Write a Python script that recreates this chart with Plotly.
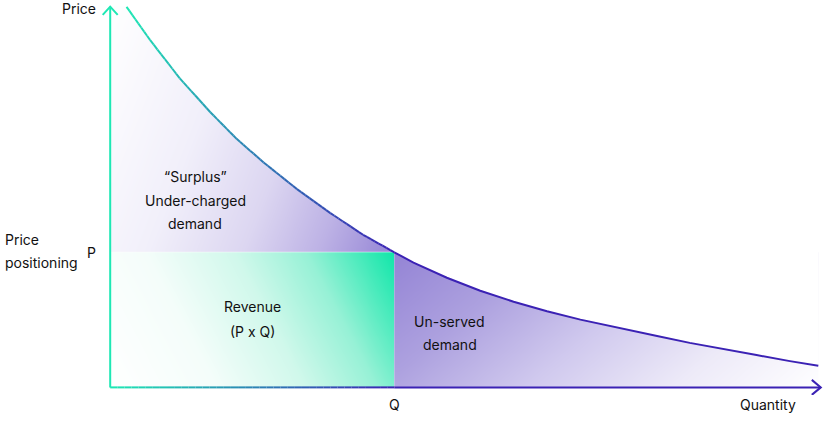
import numpy as np
import plotly.graph_objects as go

# ---------------- data ----------------
demand_quantity = [2.3, 5.6, 9.8, 14.1, 17.8, 21.6, 26.3, 31.0, 35.6, 40.0,
                   42.7, 47.4, 52.1, 56.8, 61.5, 66.2, 72.3, 77.0, 81.6, 86.3,
                   91.0, 95.7, 99.7]
demand_price = [100.0, 91.3, 81.2, 72.3, 65.3, 59.1, 52.1, 45.8, 40.1, 35.5,
                32.8, 28.8, 25.4, 22.5, 20.0, 17.8, 15.3, 13.5, 11.7, 10.0,
                8.5, 6.9, 5.7]
price_point = 35.5      # P
quantity_point = 40.0   # Q

axis_names = ["Price", "Quantity"]
marker_names = ["P", "Q"]
price_caption = ["Price", "positioning"]
surplus_text = ["\u201cSurplus\u201d", "Under-charged", "demand"]
revenue_text = ["Revenue", "(P x Q)"]
unserved_text = ["Un-served", "demand"]

# ---------------- style ----------------
W, H = 825, 421
X_RANGE = [-2, 100.5]
Y_RANGE = [-2, 101]
MARGIN = dict(l=96, r=1, t=3, b=26)
PLOT_W = W - MARGIN["l"] - MARGIN["r"]
PLOT_H = H - MARGIN["t"] - MARGIN["b"]
PXX = PLOT_W / (X_RANGE[1] - X_RANGE[0])
PXY = PLOT_H / (Y_RANGE[1] - Y_RANGE[0])

TEAL = (30, 232, 180)
INDIGO = (59, 34, 180)
FONT = dict(family="Inter, Roboto, sans-serif", size=14, color="#111111")


def mix(c1, c2, t):
    return "rgb(%d,%d,%d)" % tuple(round(a + (b - a) * t) for a, b in zip(c1, c2))


def gradient_heatmap(x0, x1, y0, y1, tfun, colorscale, n=48):
    xs = np.linspace(x0, x1, n + 1)
    ys = np.linspace(y0, y1, n + 1)
    xc = (xs[:-1] + xs[1:]) / 2
    yc = (ys[:-1] + ys[1:]) / 2
    U, V = np.meshgrid((xc - x0) / (x1 - x0), (yc - y0) / (y1 - y0))
    z = np.clip(tfun(U, V), 0, 1)
    return go.Heatmap(x=xs, y=ys, z=z, zmin=0, zmax=1, colorscale=colorscale,
                      showscale=False, zsmooth="best", hoverinfo="skip")


fig = go.Figure()

q_end = demand_quantity[-1]

# Surplus (above P, below the curve): light top-left -> purple bottom-right
fig.add_trace(gradient_heatmap(
    0, quantity_point, price_point, demand_price[0],
    lambda u, v: 0.75 * u + 0.25 * (1 - v),
    [[0, "#ffffff"], [0.35, "#f1effa"], [0.6, "#dcd6f1"], [0.8, "#bdb2e5"], [1, "#9484d5"]]))

# Revenue rectangle: white bottom-left -> teal top-right
fig.add_trace(gradient_heatmap(
    0, quantity_point, 0, price_point,
    lambda u, v: 0.8 * u + 0.2 * v,
    [[0, "#ffffff"], [0.3, "#f4fdfa"], [0.55, "#d0f8eb"], [0.75, "#97f1d6"], [1, "#10e6a9"]]))

# Un-served demand: purple top-left -> white bottom-right
fig.add_trace(gradient_heatmap(
    quantity_point, q_end, 0, price_point,
    lambda u, v: 0.72 * u + 0.28 * (1 - v),
    [[0, "#9484d5"], [0.25, "#ada1df"], [0.5, "#d0c9ee"], [0.75, "#edeaf8"], [1, "#ffffff"]]))

# white mask above the demand curve
fig.add_trace(go.Scatter(
    x=demand_quantity + [q_end, demand_quantity[0]],
    y=demand_price + [Y_RANGE[1] + 1, Y_RANGE[1] + 1],
    mode="lines", fill="toself", fillcolor="white", line=dict(width=0),
    hoverinfo="skip", showlegend=False))


def seg(x, y, color, width=2):
    fig.add_trace(go.Scatter(x=x, y=y, mode="lines", line=dict(color=color, width=width),
                             hoverinfo="skip", showlegend=False))


# demand curve: gradient teal -> indigo until Q, then indigo
iq = demand_quantity.index(quantity_point)
px = np.array(demand_quantity[:iq + 1]) * PXX
py = np.array(demand_price[:iq + 1]) * PXY
lens = np.hypot(np.diff(px), np.diff(py))
cum = np.concatenate([[0], np.cumsum(lens)])
total = cum[-1]
SUB = 8
for i in range(iq):
    x0, x1 = demand_quantity[i], demand_quantity[i + 1]
    y0, y1 = demand_price[i], demand_price[i + 1]
    for k in range(SUB):
        a, b = k / SUB, (k + 1) / SUB
        t = (cum[i] + lens[i] * (a + b) / 2) / total
        seg([x0 + (x1 - x0) * a, x0 + (x1 - x0) * b],
            [y0 + (y1 - y0) * a, y0 + (y1 - y0) * b], mix(TEAL, INDIGO, t))
seg(demand_quantity[iq:], demand_price[iq:], mix(INDIGO, INDIGO, 0))

# axes
X_TIP = 100.05
Y_TIP = 100.04
seg([0, 0], [0, Y_TIP], mix(TEAL, TEAL, 0))
NX = 40
for k in range(NX):
    a, b = k / NX, (k + 1) / NX
    seg([quantity_point * a, quantity_point * b], [0, 0], mix(TEAL, INDIGO, (a + b) / 2))
seg([quantity_point, X_TIP], [0, 0], mix(INDIGO, INDIGO, 0))
# arrow heads
seg([-7.5 / PXX, 0, 7.5 / PXX], [Y_TIP - 8.3 / PXY, Y_TIP, Y_TIP - 8.3 / PXY], mix(TEAL, TEAL, 0))
seg([X_TIP - 9 / PXX, X_TIP, X_TIP - 9 / PXX], [7.5 / PXY, 0, -7.5 / PXY], mix(INDIGO, INDIGO, 0))


def pxp(p):   # pixel x -> paper
    return (p - MARGIN["l"]) / PLOT_W


def pyp(p):   # pixel y -> paper
    return (H - MARGIN["b"] - p) / PLOT_H


annotations = []


def label(text, x, y, xanchor="center"):
    annotations.append(dict(text=text, x=pxp(x), y=pyp(y), xref="paper", yref="paper",
                            showarrow=False, xanchor=xanchor, yanchor="middle", font=FONT))


label(axis_names[0], 98, 8.3, "right")
label(axis_names[1], 767.8, 404)
label(marker_names[0], 91.7, 252.3)
label(marker_names[1], 394, 404)
label(price_caption[0], 3.3, 239, "left")
label(price_caption[1], 3.3, 262.7, "left")
for txt, yy in zip(surplus_text, [176.5, 200, 223.5]):
    label(txt, 195.2, yy)
for txt, yy in zip(revenue_text, [306.7, 331]):
    label(txt, 252.2, yy)
for txt, yy in zip(unserved_text, [321, 344.5]):
    label(txt, 449.7, yy)

fig.update_layout(
    width=W, height=H, margin=MARGIN,
    paper_bgcolor="white", plot_bgcolor="white",
    xaxis=dict(range=X_RANGE, visible=False, fixedrange=True),
    yaxis=dict(range=Y_RANGE, visible=False, fixedrange=True),
    annotations=annotations, showlegend=False,
)

fig.write_html("out.html", config={"displayModeBar": False},
               post_script="document.body.style.margin='0';document.body.style.overflow='hidden';")
